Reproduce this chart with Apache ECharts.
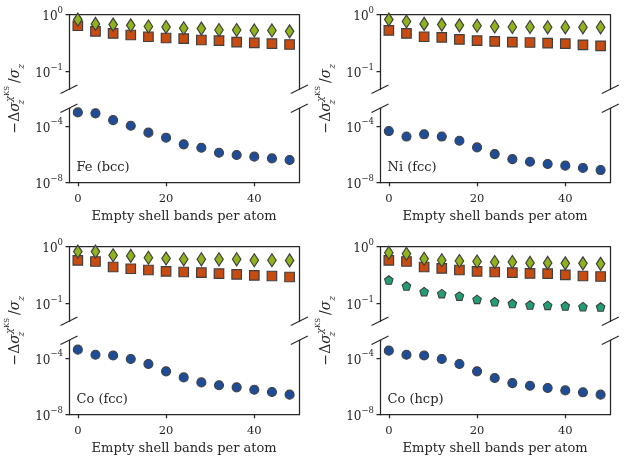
<!DOCTYPE html>
<html><head><meta charset="utf-8">
<script src="https://cdn.jsdelivr.net/npm/echarts@6/dist/echarts.min.js"></script>
<style>html,body{margin:0;padding:0;background:#fff}#c{width:628px;height:467px}</style>
</head><body><div id="c"></div>
<script>
// ---------- data ----------
const bands = [0, 4, 8, 12, 16, 20, 24, 28, 32, 36, 40, 44, 48];

const feDiamond = [0.82, 0.69, 0.67, 0.65, 0.62, 0.61, 0.58, 0.57, 0.54, 0.54, 0.53, 0.53, 0.51];
const feSquare  = [0.64, 0.51, 0.47, 0.44, 0.41, 0.39, 0.38, 0.36, 0.35, 0.33, 0.32, 0.31, 0.30];
const feCircle  = [9.1e-4, 7.8e-4, 2.6e-4, 1.05e-4, 3.4e-5, 1.5e-5, 5.1e-6, 2.95e-6, 1.3e-6, 9e-7, 6.9e-7, 5.2e-7, 4e-7];

const niDiamond = [0.82, 0.76, 0.69, 0.67, 0.65, 0.64, 0.62, 0.61, 0.61, 0.60, 0.60, 0.60, 0.60];
const niSquare  = [0.53, 0.47, 0.41, 0.40, 0.37, 0.35, 0.34, 0.33, 0.325, 0.316, 0.31, 0.296, 0.284];
const niCircle  = [4.4e-5, 1.8e-5, 2.6e-5, 1.8e-5, 9.2e-6, 3.1e-6, 1.04e-6, 4.6e-7, 3e-7, 2.1e-7, 1.6e-7, 1.1e-7, 7.8e-8];

const cofDiamond = [0.82, 0.82, 0.71, 0.69, 0.64, 0.62, 0.60, 0.60, 0.60, 0.60, 0.58, 0.58, 0.575];
const cofSquare  = [0.575, 0.55, 0.44, 0.41, 0.39, 0.37, 0.36, 0.35, 0.336, 0.327, 0.314, 0.306, 0.294];
const cofCircle  = [3.9e-4, 1.7e-4, 1.5e-4, 8.5e-5, 3.8e-5, 1.15e-5, 4.3e-6, 1.9e-6, 1.2e-6, 8.5e-7, 5.8e-7, 4e-7, 2.6e-7];

const cohDiamond  = [0.785, 0.75, 0.615, 0.58, 0.56, 0.55, 0.54, 0.54, 0.52, 0.52, 0.51, 0.51, 0.50];
const cohSquare   = [0.575, 0.55, 0.44, 0.415, 0.39, 0.37, 0.36, 0.35, 0.34, 0.336, 0.32, 0.306, 0.30];
const cohPentagon = [0.26, 0.204, 0.163, 0.150, 0.136, 0.119, 0.108, 0.101, 0.095, 0.0935, 0.091, 0.0886, 0.0875];
const cohCircle   = [3.3e-4, 1.7e-4, 1.5e-4, 8.5e-5, 3.8e-5, 1.15e-5, 3.9e-6, 1.7e-6, 1.1e-6, 7.6e-7, 5.2e-7, 3.8e-7, 2.6e-7];

const panelLabels = ['Fe (bcc)', 'Ni (fcc)', 'Co (fcc)', 'Co (hcp)'];
const xTicks = [0, 20, 40];
const topTickExps = [0, -1];     // 10^0, 10^-1
const botTickExps = [-4, -8];    // 10^-4, 10^-8
const xName = 'Empty shell bands per atom';

// ---------- style / layout ----------
const FONT = 'DejaVu Serif';
const INK = '#262626';
const EDGE = '#3f3f3f';
const C_DIAMOND = '#8fb31d', C_SQUARE = '#c84b12', C_CIRCLE = '#1f4c96', C_PENT = '#229e76';
const colLeft = [69, 380], plotW = 230.3;
const rowTop = [14.7, 246.7];
const topH = 74.6, gapH = 19, botH = 74.4;
const topRange = [Math.pow(10, -1.309), 1];
const botRange = [1e-8, Math.pow(10, -2.75)];
const xRange = [-2, 50.2];

const panels = [
  {diamond: feDiamond, square: feSquare, circle: feCircle},
  {diamond: niDiamond, square: niSquare, circle: niCircle},
  {diamond: cofDiamond, square: cofSquare, circle: cofCircle},
  {diamond: cohDiamond, square: cohSquare, circle: cohCircle, pentagon: cohPentagon}
];

const pair = arr => bands.map((b, k) => [b, arr[k]]);
const supText = v => (v < 0 ? '\u2212' + (-v) : String(v));
const tickLabelRich = {
  b: {fontFamily: FONT, fontSize: 12, color: INK, lineHeight: 17, verticalAlign: 'bottom'},
  s: {fontFamily: FONT, fontSize: 8.5, color: INK, lineHeight: 17, verticalAlign: 'top'}
};
const line = {show: true, onZero: false, lineStyle: {color: INK, width: 1.25}};

const grids = [], xAxes = [], yAxes = [], series = [], graphics = [];

panels.forEach((p, i) => {
  const c = i % 2, r = Math.floor(i / 2);
  const L = colLeft[c], T = rowTop[r];
  const gTop = grids.length;
  grids.push({left: L, top: T, width: plotW, height: topH});
  grids.push({left: L, top: T + topH + gapH, width: plotW, height: botH});

  const xTop = xAxes.length;
  xAxes.push({gridIndex: gTop, type: 'value', min: xRange[0], max: xRange[1], position: 'top',
    axisLine: line, axisTick: {show: false}, axisLabel: {show: false}, splitLine: {show: false}});
  xAxes.push({gridIndex: gTop + 1, type: 'value', min: xRange[0], max: xRange[1], position: 'bottom',
    axisLine: line,
    axisTick: {show: true, customValues: xTicks, length: 3.5, lineStyle: {color: INK, width: 1.25}},
    axisLabel: {show: true, customValues: xTicks, margin: 10, fontFamily: FONT, fontSize: 11.5, color: INK},
    splitLine: {show: false},
    name: xName, nameLocation: 'middle', nameGap: 27,
    nameTextStyle: {fontFamily: FONT, fontSize: 13, color: INK}});

  const yTopData = yAxes.length;
  // data (log) axes, drawn as right spines
  yAxes.push({gridIndex: gTop, type: 'log', min: topRange[0], max: topRange[1], position: 'right',
    axisLine: line, axisTick: {show: false}, axisLabel: {show: false}, splitLine: {show: false}});
  yAxes.push({gridIndex: gTop + 1, type: 'log', min: botRange[0], max: botRange[1], position: 'right',
    axisLine: line, axisTick: {show: false}, axisLabel: {show: false}, splitLine: {show: false}});
  // decade tick axes (left spines), in exponent units
  [[gTop, topRange, topTickExps], [gTop + 1, botRange, botTickExps]].forEach(([g, rg, ex]) => {
    yAxes.push({gridIndex: g, type: 'value', min: Math.log10(rg[0]), max: Math.log10(rg[1]), position: 'left',
      axisLine: line,
      axisTick: {show: true, customValues: ex, length: 3.5, lineStyle: {color: INK, width: 1.25}},
      axisLabel: {show: true, customValues: ex, margin: 6, rich: tickLabelRich,
        formatter: v => '{b|10}{s|' + supText(v) + '}'},
      splitLine: {show: false}});
  });

  const common = {type: 'scatter', animation: false, silent: true,
    emphasis: {disabled: true}};
  series.push(Object.assign({}, common, {xAxisIndex: xTop, yAxisIndex: yTopData, z: 2,
    symbol: 'rect', symbolSize: 9.5, data: pair(p.square),
    itemStyle: {color: C_SQUARE, opacity: 1, borderColor: EDGE, borderWidth: 1.2}}));
  series.push(Object.assign({}, common, {xAxisIndex: xTop, yAxisIndex: yTopData, z: 3,
    symbol: 'diamond', symbolSize: [8.5, 13], data: pair(p.diamond),
    itemStyle: {color: C_DIAMOND, opacity: 1, borderColor: EDGE, borderWidth: 1.2}}));
  if (p.pentagon) {
    series.push(Object.assign({}, common, {xAxisIndex: xTop, yAxisIndex: yTopData, z: 2,
      symbol: 'path://M0,-1 L0.951,-0.309 L0.588,0.809 L-0.588,0.809 L-0.951,-0.309 Z',
      symbolSize: 8.5, data: pair(p.pentagon),
      itemStyle: {color: C_PENT, opacity: 1, borderColor: EDGE, borderWidth: 1.1}}));
  }
  series.push(Object.assign({}, common, {xAxisIndex: xTop + 1, yAxisIndex: yTopData + 1, z: 2,
    symbol: 'circle', symbolSize: 9, data: pair(p.circle),
    itemStyle: {color: C_CIRCLE, opacity: 1, borderColor: EDGE, borderWidth: 1.1}}));

  // break marks
  [L, L + plotW].forEach(x => {
    [T + topH, T + topH + gapH].forEach(y => {
      graphics.push({type: 'line', silent: true, z: 10,
        shape: {x1: x - 8.5, y1: y + 4.2, x2: x + 8.5, y2: y - 4.2},
        style: {stroke: INK, lineWidth: 1.1}});
    });
  });

  // panel label
  graphics.push({type: 'text', silent: true, x: L + 7.5, y: T + topH + gapH + botH - 15.5,
    style: {text: panelLabels[i], fontFamily: FONT, fontSize: 13, fill: INK,
      align: 'left', verticalAlign: 'middle'}});

  // y-axis label
  graphics.push({type: 'text', silent: true, x: L - 54, y: T + (topH + gapH + botH) / 2,
    rotation: Math.PI / 2,
    style: {
      text: '{n|\u2212\u0394}{g|\u03c3}{z|z}{c|\u03c7}{k|KS}{n|/}{g|\u03c3}{zz|z}',
      align: 'center', verticalAlign: 'middle', fill: INK,
      rich: {
        n: {fontFamily: FONT, fontSize: 14, lineHeight: 22, verticalAlign: 'middle', fill: INK},
        g: {fontFamily: FONT, fontSize: 14, fontStyle: 'italic', lineHeight: 22, verticalAlign: 'middle', fill: INK},
        z: {fontFamily: FONT, fontSize: 9, fontStyle: 'italic', lineHeight: 9, verticalAlign: 'bottom', width: 0.1, fill: INK},
        c: {fontFamily: FONT, fontSize: 10, fontStyle: 'italic', lineHeight: 9, verticalAlign: 'top', fill: INK},
        k: {fontFamily: FONT, fontSize: 7, lineHeight: 13, verticalAlign: 'top', fill: INK, padding: [0, 3, 0, 0]},
        zz: {fontFamily: FONT, fontSize: 9, fontStyle: 'italic', lineHeight: 9, verticalAlign: 'bottom', fill: INK}
      }
    }});
});

const chart = echarts.init(document.getElementById('c'), null, {renderer: 'canvas'});
chart.setOption({
  animation: false,
  backgroundColor: '#ffffff',
  grid: grids, xAxis: xAxes, yAxis: yAxes, series: series, graphic: graphics
});
</script>
</body></html>
